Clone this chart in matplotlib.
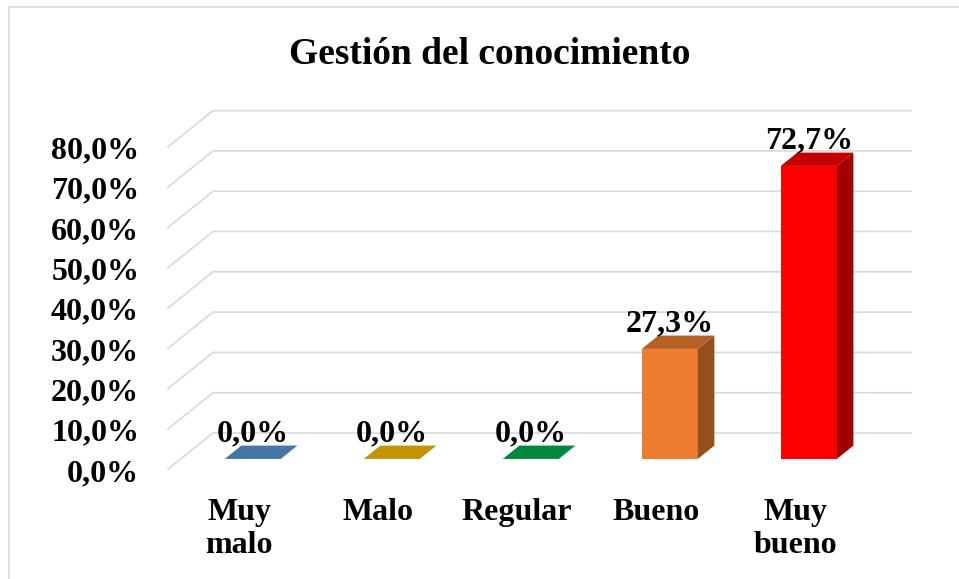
import matplotlib
matplotlib.use('Agg')
import matplotlib.pyplot as plt
from matplotlib.patches import Polygon
from matplotlib.colors import to_rgb

# ── data ─────────────────────────────────────────────────────────
categories = ['Muy\nmalo', 'Malo', 'Regular', 'Bueno', 'Muy\nbueno']
values     = [0.0, 0.0, 0.0, 27.3, 72.7]
colors     = ['#5b9bd5', '#ffc000', '#00b050', '#ed7d31', '#ff0000']
yticks     = [0, 10, 20, 30, 40, 50, 60, 70, 80]
title      = 'Gestión del conocimiento'

# ── fake 3d projection ───────────────────────────────────────────
DX, DY   = 0.331, 9.18      # shift of full depth, in data units
X_LEFT   = -0.518
X_RIGHT  = 4.51
D_FRONT  = 0.30
D_BACK   = 0.66
BAR_W    = 0.403


def proj(x, y, d):
    return (x + d * DX, y + d * DY)


def shade(c, f):
    r, g, b = to_rgb(c)
    return (r * f, g * f, b * f)


def fmt(v):
    return f'{v:.1f}%'.replace('.', ',')


plt.rcParams['font.family'] = ['Liberation Serif', 'DejaVu Serif']
plt.rcParams['font.weight'] = 'bold'

fig = plt.figure(figsize=(9.59, 5.79), dpi=100)
W, H = 959, 579
ax = fig.add_axes([167 / W, 109 / H, (940 - 167) / W, 450 / H])
ax.set_xlim(X_LEFT, (940 - 239) / 139)
ax.set_ylim(0, 450 / 4.03)
for s in ax.spines.values():
    s.set_visible(False)

# gridlines: left wall + back wall
grid_kw = dict(color='#d9d9d9', lw=1.2, zorder=1, solid_capstyle='butt')
for v in yticks:
    a = proj(X_LEFT, v, 0)
    b = proj(X_LEFT, v, 1)
    c = proj(X_RIGHT, v, 1)
    ax.plot([a[0], b[0], c[0]], [a[1], b[1], c[1]], **grid_kw)

# bars
for i, (v, col) in enumerate(zip(values, colors)):
    xl, xr = i - BAR_W / 2, i + BAR_W / 2
    front = [proj(xl, 0, D_FRONT), proj(xr, 0, D_FRONT),
             proj(xr, v, D_FRONT), proj(xl, v, D_FRONT)]
    top = [proj(xl, v, D_FRONT), proj(xr, v, D_FRONT),
           proj(xr, v, D_BACK), proj(xl, v, D_BACK)]
    side = [proj(xr, 0, D_FRONT), proj(xr, v, D_FRONT),
            proj(xr, v, D_BACK), proj(xr, 0, D_BACK)]
    if v > 0:
        ax.add_patch(Polygon(front, closed=True, fc=col, ec='none', zorder=3))
        ax.add_patch(Polygon(side, closed=True, fc=shade(col, 0.63), ec='none', zorder=3))
    ax.add_patch(Polygon(top, closed=True, fc=shade(col, 0.77), ec='none', zorder=3))

    lx, ly = proj(i, v, D_FRONT)
    ax.annotate(fmt(v), (lx, ly), xytext=(0, 18), textcoords='offset points',
                ha='center', va='center', fontsize=23, fontweight='bold',
                zorder=5)

# axes labels
ax.set_yticks(yticks)
ax.set_yticklabels([fmt(v) for v in yticks], fontsize=23, fontweight='bold')
ax.set_xticks(range(len(categories)))
ax.set_xticklabels(categories, fontsize=23, fontweight='bold', linespacing=1.2)
ax.tick_params(axis='y', length=0, pad=20)
ax.tick_params(axis='x', length=0, pad=20)

fig.text(490 / W, 1 - 55 / H, title, ha='center', va='center',
         fontsize=27, fontweight='bold')

# chart border (left and top visible)
fig.add_artist(plt.Line2D([8.5 / W, 8.5 / W], [0, 1 - 6.5 / H],
                          transform=fig.transFigure, color='#d9d9d9', lw=1.2))
fig.add_artist(plt.Line2D([8.5 / W, 1], [1 - 6.5 / H, 1 - 6.5 / H],
                          transform=fig.transFigure, color='#d9d9d9', lw=1.2))

fig.savefig('out.png', dpi=100)
